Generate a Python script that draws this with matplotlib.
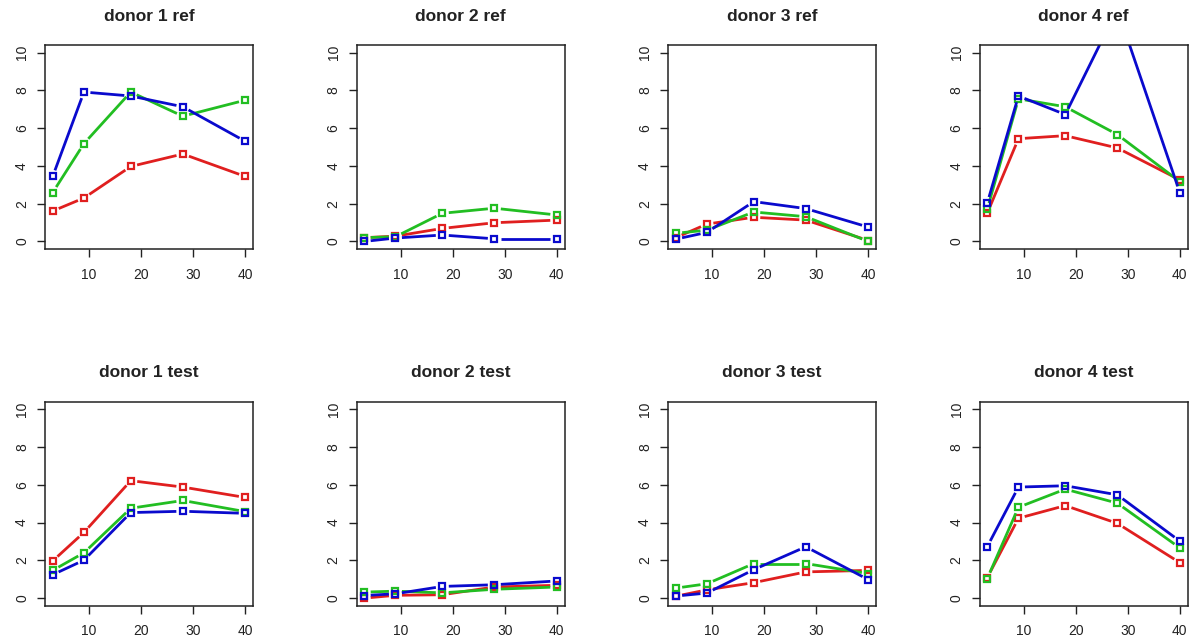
import numpy as np
import matplotlib
matplotlib.use("Agg")
import matplotlib.pyplot as plt

plt.rcParams['font.family'] = ['Liberation Sans', 'DejaVu Sans']

# ---- data ----
days = [3, 9, 18, 28, 40]
donors = ["donor 1", "donor 2", "donor 3", "donor 4"]
conditions = ["ref", "test"]

# ref condition
ref_red = [
    [1.61, 2.30, 3.97, 4.63, 3.44],
    [0.20, 0.28, 0.69, 0.99, 1.13],
    [0.20, 0.92, 1.28, 1.13, 0.05],
    [1.49, 5.44, 5.60, 4.95, 3.26],
]
ref_green = [
    [2.59, 5.18, 7.91, 6.63, 7.48],
    [0.20, 0.25, 1.49, 1.76, 1.40],
    [0.43, 0.60, 1.56, 1.31, 0.00],
    [1.70, 7.55, 7.13, 5.66, 3.17],
]
ref_blue = [
    [3.44, 7.91, 7.70, 7.13, 5.30],
    [0.00, 0.18, 0.34, 0.14, 0.14],
    [0.12, 0.48, 2.11, 1.74, 0.76],
    [2.02, 7.70, 6.72, 12.30, 2.59],
]
# test condition
test_red = [
    [1.97, 3.48, 6.22, 5.88, 5.33],
    [0.00, 0.15, 0.18, 0.59, 0.68],
    [0.10, 0.44, 0.82, 1.39, 1.47],
    [1.08, 4.23, 4.90, 3.96, 1.88],
]
test_green = [
    [1.47, 2.40, 4.76, 5.17, 4.58],
    [0.32, 0.37, 0.28, 0.47, 0.59],
    [0.53, 0.76, 1.83, 1.83, 1.30],
    [1.03, 4.81, 5.77, 5.03, 2.66],
]
test_blue = [
    [1.24, 2.01, 4.53, 4.60, 4.49],
    [0.14, 0.23, 0.62, 0.71, 0.91],
    [0.11, 0.27, 1.51, 2.72, 0.98],
    [2.72, 5.88, 5.95, 5.47, 3.02],
]

series_colors = ['#E01F1F', '#22BE22', '#0A0ACD']
yticks = [0, 2, 4, 6, 8, 10]
xticks = [10, 20, 30, 40]

# ---- layout (pixels) ----
W, H = 1190, 642
fig = plt.figure(figsize=(W / 100, H / 100), dpi=100)
lefts = [45, 356.5, 668, 979.5]
tops = [45, 401.7]
aw, ah = 208, 204

GAP = 6.5  # px gap between line ends and points (R type="b")


def draw_series(ax, x, y, color):
    x = np.asarray(x, float)
    y = np.asarray(y, float)
    pts = ax.transData.transform(np.column_stack([x, y]))
    inv = ax.transData.inverted()
    for i in range(len(x) - 1):
        p0, p1 = pts[i], pts[i + 1]
        d = p1 - p0
        L = np.hypot(*d)
        if L > 2 * GAP:
            u = d / L
            q = inv.transform(np.array([p0 + u * GAP, p1 - u * GAP]))
            ax.plot(q[:, 0], q[:, 1], color=color, lw=2.0,
                    solid_capstyle='butt')
    ax.plot(x, y, ls='none', marker='s', ms=4.3, mfc='none', mec=color,
            mew=1.6)


data = {
    "ref": (ref_red, ref_green, ref_blue),
    "test": (test_red, test_green, test_blue),
}

for r, cond in enumerate(conditions):
    for c, donor in enumerate(donors):
        ax = fig.add_axes([lefts[c] / W, 1 - (tops[r] + ah) / H, aw / W, ah / H])
        ax.set_xlim(3 - 0.04 * 37, 40 + 0.04 * 37)
        ax.set_ylim(-0.4, 10.4)
        ax.set_xticks(xticks)
        ax.set_yticks(yticks)
        ax.tick_params(axis='both', direction='out', length=5.5, width=1.0,
                       labelsize=10, colors='#222222')
        ax.tick_params(axis='x', pad=8)
        ax.tick_params(axis='y', pad=6, labelrotation=90)
        for lab in ax.get_yticklabels():
            lab.set_va('center')
        for s in ax.spines.values():
            s.set_linewidth(1.1)
            s.set_color('#222222')
        for vals, col in zip(data[cond], series_colors):
            draw_series(ax, days, vals[c], col)
        ax.set_title(f"{donor} {cond}", fontsize=12.5, fontweight='bold',
                     pad=17.5, color='#222222')

fig.savefig("out.png", dpi=100)
